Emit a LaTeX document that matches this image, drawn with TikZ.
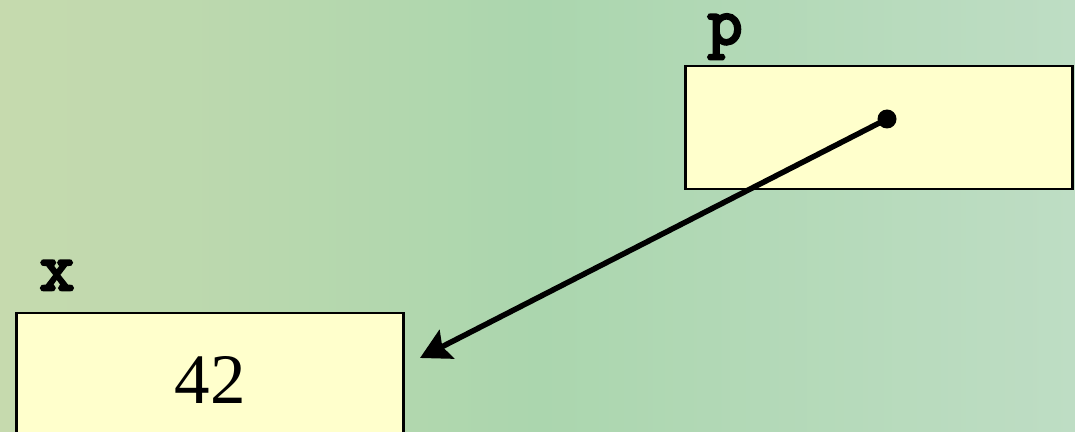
\documentclass[tikz,border=0pt]{standalone}
\usepackage{fontspec}
\newfontfamily\codefont[FakeBold=4]{Latin Modern Mono}
\newfontfamily\numfont{Liberation Serif}
\usepackage{tikz}
\usetikzlibrary{arrows.meta,calc,positioning}
\definecolor{cellfill}{HTML}{FFFFCC}
\definecolor{bgleft}{HTML}{C6DAAE}
\definecolor{bgmid}{HTML}{ABD6AE}
\definecolor{bgright}{HTML}{BEDDC4}

\begin{document}
\begin{tikzpicture}[x=1pt,y=1pt,>=Stealth,every node/.style={inner sep=0pt}]
  \tikzset{cell/.style={draw,line width=2.5pt,fill=cellfill,anchor=north west},
           varname/.style={font=\codefont\fontsize{68}{68}\selectfont},
           ptrline/.style={line width=5.5pt,-{Stealth[length=30pt,width=32pt,inset=5pt]}}}
  \clip (0,0) rectangle (1075,431);
  \shade[left color=bgleft,right color=bgright,middle color=bgmid] (0,0) rectangle (1075,431);
  % memory cells
  \node[cell,minimum width=387pt,minimum height=123pt] (boxp) at (684,366) {};
  \node[cell,minimum width=387pt,minimum height=140pt] (boxx) at (15,119) {};
  \node[varname,anchor=base] (namep) at (725,387) {p};
  \node[varname,anchor=base] (namex) at (57,141) {x};
  \node[anchor=base,font=\numfont\fontsize{71}{71}\selectfont] (val) at (210,28) {42};
  % pointer
  \fill (887,312) circle (9.5pt) node (ptr) {};
  \coordinate (tgt) at (420,73);
  \draw[ptrline] (ptr.center) -- (tgt);
\end{tikzpicture}
\end{document}
